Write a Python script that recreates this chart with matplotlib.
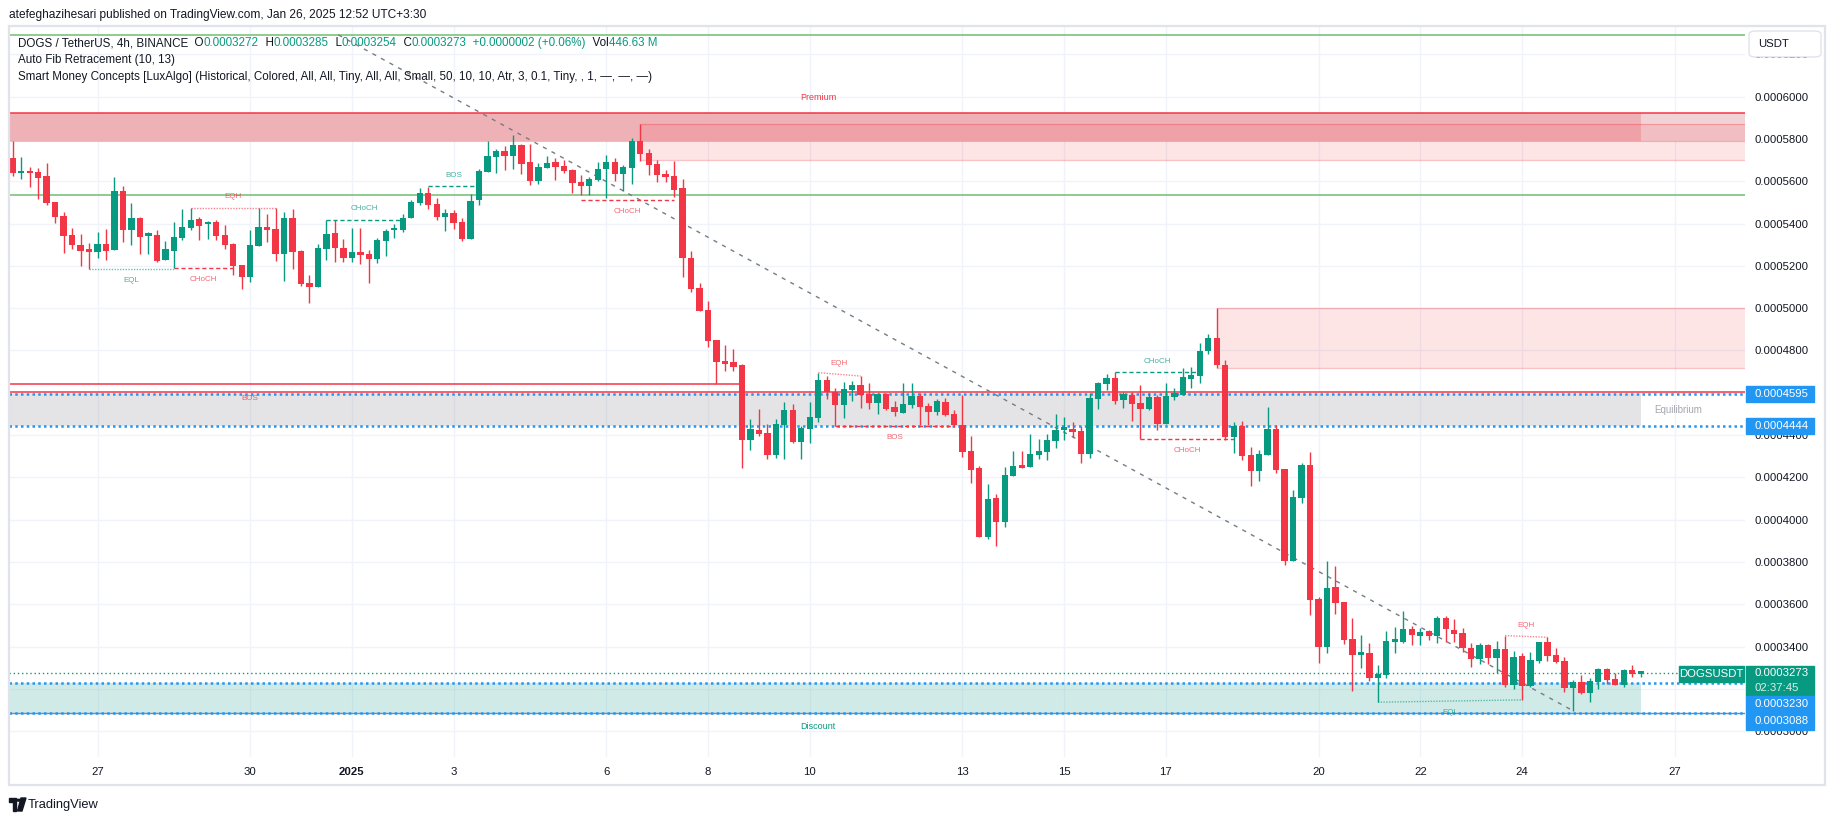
import numpy as np
import pandas as pd
import matplotlib
matplotlib.use('Agg')
import matplotlib.pyplot as plt
import matplotlib.dates as mdates
import matplotlib.transforms as mtransforms
from matplotlib.patches import Rectangle, FancyBboxPatch, Polygon, Circle

plt.rcParams['font.family'] = ['Liberation Sans', 'DejaVu Sans']

UP = '#089981'
DN = '#f23645'
BLUE = '#2196f3'
INK = '#131722'
GRID = '#f0f3fa'
GREY = '#787b86'

# DOGS/USDT 4h candles starting 2024-12-25 08:00, prices in 1e-7 USDT
opens = [5709, 5638, 5649, 5644, 5625, 5502, 5436, 5346, 5299, 5275, 5267, 5304, 5277, 5554, 5371, 5427,
         5343, 5345, 5228, 5272, 5334, 5381, 5422, 5397, 5408, 5346, 5304, 5203, 5149, 5296, 5384, 5374,
         5258, 5427, 5270, 5119, 5102, 5282, 5356, 5285, 5239, 5266, 5256, 5234, 5319, 5368, 5370, 5428,
         5499, 5545, 5493, 5433, 5450, 5408, 5329, 5510, 5646, 5716, 5743, 5721, 5772, 5690, 5601, 5664,
         5691, 5672, 5653, 5597, 5579, 5606, 5658, 5691, 5636, 5664, 5791, 5734, 5682, 5636, 5625, 5568,
         5237, 5096, 4992, 4850, 4750, 4744, 4731, 4377, 4424, 4408, 4308, 4446, 4519, 4367, 4430, 4483,
         4661, 4604, 4542, 4615, 4637, 4593, 4553, 4594, 4533, 4506, 4542, 4585, 4539, 4511, 4555, 4500,
         4446, 4325, 4246, 3920, 4103, 3989, 4207, 4259, 4249, 4306, 4322, 4374, 4424, 4429, 4420, 4312,
         4572, 4643, 4670, 4566, 4590, 4553, 4524, 4580, 4453, 4582, 4591, 4667, 4681, 4798, 4858, 4731,
         4393, 4443, 4306, 4232, 4308, 4429, 4240, 3806, 4104, 4259, 3625, 3400, 3682, 3611, 3436, 3362,
         3370, 3253, 3266, 3424, 3423, 3483, 3452, 3475, 3452, 3534, 3479, 3464, 3394, 3343, 3406, 3346,
         3387, 3219, 3354, 3215, 3334, 3422, 3360, 3330, 3206, 3231, 3182, 3234, 3294, 3247, 3220, 3290,
         3272]
highs = [5792, 5715, 5666, 5661, 5687, 5503, 5453, 5378, 5351, 5308, 5359, 5374, 5620, 5578, 5497, 5433,
         5362, 5368, 5318, 5408, 5469, 5474, 5433, 5412, 5417, 5393, 5308, 5204, 5370, 5475, 5444, 5475,
         5455, 5467, 5275, 5157, 5302, 5417, 5417, 5327, 5379, 5379, 5277, 5334, 5374, 5398, 5444, 5510,
         5567, 5575, 5521, 5467, 5464, 5427, 5542, 5657, 5792, 5751, 5769, 5819, 5776, 5776, 5687, 5720,
         5712, 5701, 5657, 5630, 5620, 5693, 5726, 5709, 5677, 5803, 5871, 5753, 5701, 5653, 5696, 5609,
         5270, 5121, 5034, 4851, 4826, 4806, 4735, 4476, 4523, 4453, 4476, 4557, 4546, 4445, 4557, 4695,
         4681, 4624, 4650, 4656, 4679, 4646, 4601, 4601, 4561, 4646, 4646, 4598, 4550, 4572, 4577, 4520,
         4589, 4396, 4254, 4169, 4120, 4248, 4325, 4325, 4405, 4382, 4405, 4498, 4484, 4462, 4445, 4601,
         4651, 4691, 4697, 4605, 4602, 4637, 4599, 4588, 4645, 4621, 4716, 4721, 4834, 4880, 5000, 4755,
         4464, 4467, 4342, 4330, 4533, 4448, 4241, 4141, 4270, 4320, 3636, 3805, 3781, 3612, 3535, 3455,
         3419, 3313, 3474, 3493, 3568, 3498, 3490, 3477, 3546, 3545, 3531, 3488, 3417, 3417, 3412, 3427,
         3452, 3378, 3371, 3375, 3422, 3444, 3392, 3349, 3242, 3264, 3253, 3301, 3299, 3274, 3296, 3313,
         3285]
lows = [5627, 5611, 5575, 5518, 5488, 5404, 5263, 5282, 5201, 5185, 5239, 5230, 5275, 5315, 5300, 5258,
        5258, 5220, 5226, 5189, 5322, 5370, 5322, 5329, 5321, 5280, 5159, 5092, 5125, 5295, 5315, 5225,
        5130, 5187, 5107, 5026, 5101, 5230, 5220, 5218, 5220, 5208, 5119, 5214, 5248, 5330, 5362, 5427,
        5490, 5471, 5417, 5367, 5373, 5319, 5328, 5490, 5644, 5638, 5653, 5658, 5636, 5584, 5589, 5663,
        5606, 5638, 5546, 5535, 5535, 5603, 5523, 5603, 5556, 5589, 5698, 5631, 5595, 5595, 5527, 5149,
        5078, 4987, 4818, 4642, 4705, 4705, 4246, 4330, 4397, 4289, 4293, 4289, 4361, 4289, 4364, 4462,
        4569, 4445, 4483, 4561, 4527, 4525, 4501, 4519, 4490, 4503, 4528, 4448, 4449, 4494, 4490, 4440,
        4298, 4172, 3918, 3909, 3877, 3967, 4206, 4245, 4248, 4286, 4282, 4339, 4377, 4393, 4270, 4290,
        4522, 4613, 4546, 4528, 4467, 4380, 4519, 4424, 4451, 4566, 4590, 4624, 4645, 4785, 4716, 4377,
        4317, 4282, 4159, 4185, 4306, 4222, 3786, 3805, 4081, 3550, 3324, 3368, 3554, 3412, 3192, 3301,
        3238, 3137, 3250, 3371, 3419, 3409, 3409, 3431, 3416, 3423, 3423, 3373, 3305, 3316, 3316, 3274,
        3211, 3200, 3148, 3211, 3324, 3334, 3321, 3187, 3097, 3176, 3140, 3198, 3223, 3219, 3209, 3258,
        3254]
closes = [5638, 5649, 5638, 5617, 5499, 5433, 5343, 5300, 5272, 5267, 5304, 5272, 5554, 5371, 5425, 5338,
          5346, 5225, 5280, 5337, 5384, 5417, 5390, 5408, 5343, 5300, 5201, 5149, 5299, 5384, 5371, 5258,
          5427, 5267, 5116, 5102, 5285, 5351, 5286, 5239, 5266, 5253, 5234, 5322, 5365, 5370, 5427, 5502,
          5545, 5490, 5433, 5450, 5404, 5329, 5507, 5649, 5721, 5743, 5721, 5772, 5683, 5601, 5668, 5687,
          5669, 5649, 5594, 5579, 5609, 5658, 5691, 5636, 5668, 5791, 5731, 5679, 5631, 5622, 5559, 5239,
          5092, 4988, 4847, 4747, 4738, 4724, 4377, 4427, 4407, 4308, 4451, 4519, 4367, 4434, 4486, 4661,
          4602, 4542, 4618, 4637, 4588, 4553, 4594, 4525, 4508, 4547, 4585, 4534, 4511, 4561, 4497, 4446,
          4322, 4235, 3920, 4098, 3989, 4211, 4254, 4246, 4311, 4325, 4377, 4424, 4427, 4416, 4312, 4576,
          4646, 4670, 4563, 4594, 4549, 4524, 4580, 4453, 4585, 4601, 4675, 4684, 4798, 4858, 4729, 4393,
          4443, 4303, 4232, 4311, 4429, 4237, 3806, 4107, 4259, 3620, 3400, 3677, 3608, 3431, 3362, 3370,
          3253, 3271, 3427, 3427, 3483, 3455, 3469, 3452, 3535, 3482, 3460, 3395, 3343, 3406, 3346, 3387,
          3219, 3351, 3215, 3337, 3422, 3357, 3329, 3206, 3231, 3182, 3238, 3294, 3242, 3220, 3290, 3271,
          3273]
last_volume = '446.63 M'

tick_days = ['2024-12-27', '2024-12-30', '2025-01-01', '2025-01-03', '2025-01-06', '2025-01-08',
             '2025-01-10', '2025-01-13', '2025-01-15', '2025-01-17', '2025-01-20', '2025-01-22',
             '2025-01-24', '2025-01-27']

# levels drawn by the indicators (1e-7 USDT)
fib_levels = [6292, 5535]
premium = (5925, 5792)
ob_upper = (74, 5870, 5700)       # from bar, top, bottom
ob_lower = (142, 5000, 4716)
bos_level = (86, 4642)            # runs from left edge to bar
strong_level = 4603
equilibrium = (4595, 4444)
discount = (3230, 3088)
fib_line = [(38.4, 6292), (184, 3097)]

# (from bar, to bar, start price, end price, colour, style, label, side)
structure = [
    (9, 19, 5185, 5185, UP, 'eq', 'EQL', -1),
    (19, 26, 5190, 5190, DN, 'dash', 'CHoCH', -1),
    (21, 31, 5474, 5474, DN, 'eq', 'EQH', 1),
    (37, 46, 5417, 5417, UP, 'dash', 'CHoCH', 1),
    (49, 55, 5576, 5576, UP, 'dash', 'BOS', 1),
    (67, 78, 5510, 5510, DN, 'dash', 'CHoCH', -1),
    (95, 100, 4695, 4679, DN, 'eq', 'EQH', 1),
    (97, 111, 4443, 4443, DN, 'dash', 'BOS', -1),
    (130, 140, 4697, 4697, UP, 'dash', 'CHoCH', 1),
    (133, 144, 4381, 4381, DN, 'dash', 'CHoCH', -1),
    (161, 178, 3137, 3148, UP, 'eq', 'EQL', -1),
    (176, 181, 3452, 3444, DN, 'eq', 'EQH', 1),
]

S = 1e-7
o = np.array(opens) * S
h = np.array(highs) * S
l = np.array(lows) * S
c = np.array(closes) * S

times = pd.date_range('2024-12-25 08:00', periods=len(opens), freq='4h')
xs = mdates.date2num(times.to_pydatetime())


def bx(k):
    return xs[0] + k / 6.0


W, H = 1835, 821
fig = plt.figure(figsize=(W / 100, H / 100), dpi=100)


def fx(px):
    return px / W


def fy(py):
    return 1 - py / H


ax = fig.add_axes([fx(9), fy(757), fx(1745) - fx(9), fy(26) - fy(757)])
for s in ax.spines.values():
    s.set_visible(False)

x_left, x_right = bx(-0.44), bx(204.3)
y_lo, y_hi = 0.0002878, 0.0006334
ax.set_xlim(x_left, x_right)
ax.set_ylim(y_lo, y_hi)
pu = (y_hi - y_lo) / 731.0  # price per pixel


# zones
def zone(x0, x1, top, bot, col, a):
    ax.fill_between([x0, x1], bot * S, top * S, color=col, alpha=a, lw=0, zorder=1)


zone(x_left, bx(192), premium[0], premium[1], '#eeb1b6', 1)
zone(bx(192), x_right, premium[0], premium[1], '#f1d3d6', 1)
zone(bx(ob_upper[0]), x_right, ob_upper[1], ob_upper[2], DN, 0.13)
zone(bx(ob_lower[0]), x_right, ob_lower[1], ob_lower[2], DN, 0.13)
zone(x_left, bx(192), equilibrium[0], equilibrium[1], GREY, 0.2)
zone(x_left, bx(192), discount[0], discount[1], UP, 0.19)

for b in (ob_upper, ob_lower):
    ax.hlines([b[1] * S, b[2] * S], bx(b[0]), x_right, color=DN, alpha=0.3, lw=0.9, zorder=1.5)
ax.axhline(premium[0] * S, color=DN, lw=1.1, zorder=2)
ax.axhline(premium[1] * S, color=DN, lw=0.8, alpha=0.35, zorder=2)

for lv in fib_levels:
    ax.axhline(lv * S, color='#4caf50', lw=1.1, alpha=0.8, zorder=2)

ax.hlines(bos_level[1] * S, x_left, bx(bos_level[0]), color=DN, lw=1.1, zorder=2)
ax.axhline(strong_level * S, color=DN, lw=1.1, zorder=2)
ax.axhline(discount[1] * S, color='#6d8fbf', lw=1, zorder=2)
for lv in equilibrium + discount:
    ax.axhline(lv * S, color=BLUE, lw=1.8, ls=(0, (1, 1.3)), zorder=2.2)
ax.axhline(c[-1], color=UP, lw=1, ls=(0, (1, 2)), zorder=2.3)

# auto fib diagonal
ax.plot([bx(p[0]) for p in fib_line], [p[1] * S for p in fib_line], color=GREY, lw=1,
        ls=(0, (3, 4)), zorder=2.4)

# candles
col = np.where(c >= o, UP, DN)
ax.vlines(xs, l, h, colors=col, lw=1, zorder=4)
body = np.maximum(np.abs(c - o), 2.5 * pu)
ax.bar(xs, body, bottom=np.minimum(o, c), width=0.124, color=col, lw=0, zorder=5)

# market structure labels
for k0, k1, p0, p1, cc, kind, txt, side in structure:
    ls = (0, (1, 1)) if kind == 'eq' else (0, (3, 2))
    a = 0.6 if kind == 'eq' else 1.0
    ax.plot([bx(k0), bx(k1)], [p0 * S, p1 * S], color=cc, lw=1, ls=ls, alpha=a, zorder=3)
    ax.annotate(txt, ((bx(k0) + bx(k1)) / 2, (p0 + p1) / 2 * S), xytext=(0, side * 8),
                textcoords='offset points', ha='center', va='center', fontsize=5.8,
                color=cc, alpha=0.75, zorder=6)
ax.text(bx(28), bos_level[1] * S - 14.4 * pu, 'BOS', color=DN, alpha=0.8, fontsize=5.8,
        ha='center', va='center', zorder=6)

ax.text(bx(95), (premium[0] * S) + 15 * pu, 'Premium', color=DN, fontsize=6.5, ha='center', va='center')
ax.text(bx(95), discount[1] * S - 14 * pu, 'Discount', color=UP, fontsize=6.5, ha='center', va='center')
ax.text(bx(196.4), sum(equilibrium) / 2 * S, 'Equilibrium', color='#a3a6af', fontsize=7,
        ha='center', va='center')

# axes, grid
hidden_ticks = (46, 32)   # price labels covered by the tags on the axis


def price_fmt(v, pos):
    if int(round(v * 1e5)) in hidden_ticks:
        return ''
    return '%.7f' % v


ax.set_yticks(np.arange(30, 63, 2) * 1e-5)
ax.yaxis.set_major_formatter(matplotlib.ticker.FuncFormatter(price_fmt))
ax.yaxis.tick_right()
ax.tick_params(axis='y', length=0, pad=6.5, labelsize=8.2, labelcolor=INK)

tdates = pd.to_datetime(tick_days)
ax.set_xticks(mdates.date2num(tdates.to_pydatetime()))
ax.set_xticklabels(['2025' if (d.month == 1 and d.day == 1) else str(d.day) for d in tdates])
ax.tick_params(axis='x', length=0, pad=7, labelsize=8.2, labelcolor=INK)
for t in ax.get_xticklabels():
    if t.get_text() == '2025':
        t.set_fontweight('bold')
ax.grid(True, color=GRID, lw=1)
ax.set_axisbelow(True)

# price axis tags
tr = mtransforms.blended_transform_factory(ax.transAxes, ax.transData)
tx0, tx1 = (1746 - 9) / 1736.0, (1814 - 9) / 1736.0
txt_x = (1754 - 9) / 1736.0


def tag(top, bot, color, lines, alphas=None):
    ax.add_patch(Rectangle((tx0, bot), tx1 - tx0, top - bot, transform=tr, color=color,
                           clip_on=False, zorder=20))
    n = len(lines)
    step = (top - bot) / n
    for i, s in enumerate(lines):
        ax.text(txt_x, top - step * (i + 0.5), s, transform=tr, color='white', fontsize=8.2,
                ha='left', va='center', zorder=21, clip_on=False,
                alpha=1 if alphas is None else alphas[i])


for lv in equilibrium:
    tag(lv * S + 8 * pu, lv * S - 8.3 * pu, BLUE, ['%.7f' % (lv * S)])
t_top = c[-1] + 7.8 * pu
t_bot = c[-1] - 22.2 * pu
tag(t_top, t_bot, UP, ['%.7f' % c[-1], '02:37:45'], [1, 0.85])
tag(t_bot, t_bot - 16.6 * pu, BLUE, ['%.7f' % (discount[0] * S)])
tag(t_bot - 16.6 * pu, t_bot - 34.3 * pu, BLUE, ['%.7f' % (discount[1] * S)])

sx0, sx1 = (1679 - 9) / 1736.0, (1744 - 9) / 1736.0
ax.add_patch(Rectangle((sx0, t_top - 16 * pu), sx1 - sx0, 16 * pu, transform=tr, color=UP,
                       clip_on=False, zorder=20))
ax.text((sx0 + sx1) / 2, t_top - 8 * pu, 'DOGSUSDT', transform=tr, color='white', fontsize=8.2,
        ha='center', va='center', zorder=21)

# frame, header, legend
fig.add_artist(Rectangle((fx(9), fy(785)), fx(1825) - fx(9), fy(26) - fy(785),
                         transform=fig.transFigure, fill=False, ec='#e0e3eb', lw=1.6))
fig.add_artist(FancyBboxPatch((fx(1749), fy(57)), fx(1821) - fx(1749), fy(31) - fy(57),
                              boxstyle='round,pad=0,rounding_size=0.004', transform=fig.transFigure,
                              fc='white', ec='#e0e3eb', lw=1, zorder=5))
fig.text(fx(1758), fy(44), 'USDT', fontsize=8.2, color=INK, va='center', ha='left', zorder=6)

fig.text(fx(9), fy(15), 'atefeghazihesari published on TradingView.com, Jan 26, 2025 12:52 UTC+3:30',
         fontsize=8.6, color=INK, va='center', ha='left')

rend = fig.canvas.get_renderer()


def text_run(x_px, y_px, parts, size=8.4):
    for s, cc in parts:
        t = fig.text(fx(x_px), fy(y_px), s, color=cc, fontsize=size, va='center', ha='left')
        x_px += t.get_window_extent(renderer=rend).width


chg = c[-1] - c[-2]
run = [('DOGS / TetherUS, 4h, BINANCE', INK),
       ('  O', INK), ('%.7f' % o[-1], UP), ('  H', INK), ('%.7f' % h[-1], UP),
       ('  L', INK), ('%.7f' % l[-1], UP), ('  C', INK), ('%.7f' % c[-1], UP),
       ('  %+.7f (%+.2f%%)' % (chg, chg / c[-2] * 100), UP), ('  Vol', INK), (last_volume, UP)]
text_run(18, 43, run)
text_run(18, 60, [('Auto Fib Retracement (10, 13)', INK)])
text_run(18, 77, [('Smart Money Concepts [LuxAlgo] (Historical, Colored, All, All, Tiny, All, All, '
                   'Small, 50, 10, 10, Atr, 3, 0.1, Tiny, , 1, \u2014, \u2014, \u2014)', INK)])

# TradingView logo
fig.add_artist(Rectangle((fx(9), fy(802)), fx(16) - fx(9), fy(798) - fy(802), transform=fig.transFigure,
                         color=INK))
fig.add_artist(Rectangle((fx(12.5), fy(811)), fx(16) - fx(12.5), fy(802) - fy(811),
                         transform=fig.transFigure, color=INK))
fig.add_artist(Circle((fx(18.6), fy(800.2)), 0.0011, transform=fig.transFigure, color=INK))
fig.add_artist(Polygon([(fx(21), fy(798)), (fx(26), fy(798)), (fx(22), fy(811)), (fx(17.5), fy(811))],
                       transform=fig.transFigure, color=INK))
fig.text(fx(28), fy(805), 'TradingView', fontsize=9.3, color=INK, va='center', ha='left')

fig.savefig('out.png', dpi=100)
